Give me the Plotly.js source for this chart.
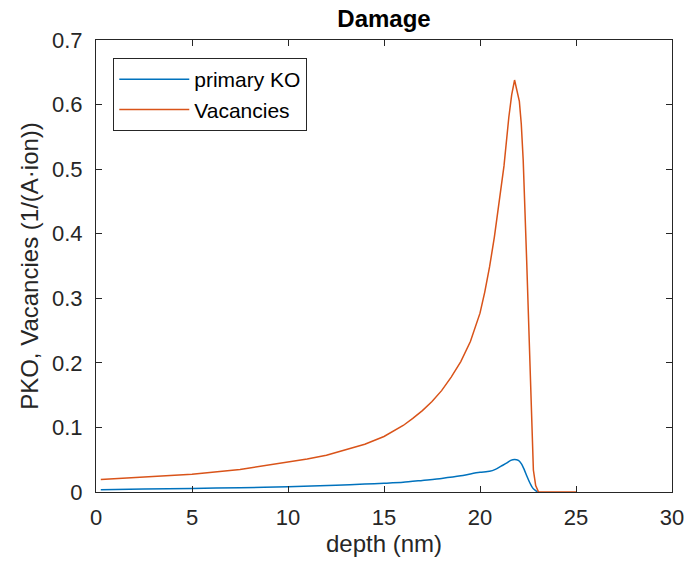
<!DOCTYPE html>
<html>
<head>
<meta charset="utf-8">
<script src="https://cdn.plot.ly/plotly-3.0.1.min.js"></script>
<style>html,body{margin:0;padding:0;background:#fff;}#chart{width:689px;height:570px;}</style>
</head>
<body>
<div id="chart"></div>
<script>
// PKO (primary knock-on) vs depth
const pkoDepth = [0.25, 2.5, 5, 7.5, 10, 12.5, 14, 15, 16, 17, 18, 19, 19.5, 20, 20.5, 20.8, 21.1, 21.4, 21.6, 21.8, 22.0, 22.15, 22.3, 22.45, 22.6, 22.75, 22.9, 23.0];
const pkoValues = [0.0035, 0.0045, 0.0055, 0.0066, 0.008, 0.0105, 0.0122, 0.0135, 0.015, 0.018, 0.021, 0.025, 0.028, 0.0305, 0.032, 0.035, 0.040, 0.045, 0.049, 0.0505, 0.049, 0.044, 0.035, 0.024, 0.014, 0.006, 0.002, 0.0];

// Vacancies vs depth
const vacDepth = [0.25, 2.5, 5, 7.5, 10, 11, 12, 13, 14, 15, 15.5, 16, 16.5, 17, 17.5, 18, 18.5, 19, 19.5, 20, 20.25, 20.5, 20.75, 21, 21.25, 21.5, 21.65, 21.8, 22.05, 22.15, 22.25, 22.43, 22.6, 22.7, 22.78, 22.9, 23.05, 24, 25];
const vacValues = [0.0195, 0.023, 0.0275, 0.035, 0.046, 0.051, 0.057, 0.065, 0.074, 0.086, 0.094, 0.103, 0.114, 0.126, 0.140, 0.157, 0.178, 0.202, 0.233, 0.277, 0.31, 0.349, 0.395, 0.447, 0.505, 0.58, 0.615, 0.638, 0.605, 0.57, 0.514, 0.359, 0.204, 0.10, 0.034, 0.01, 0.0, 0.0, 0.0];

const xTicks = [0, 5, 10, 15, 20, 25, 30];
const yTicks = [0, 0.1, 0.2, 0.3, 0.4, 0.5, 0.6, 0.7];
const yTickText = ['0', '0.1', '0.2', '0.3', '0.4', '0.5', '0.6', '0.7'];

const font = 'Liberation Sans, Arial, Helvetica, sans-serif';
const axisColor = '#262626';

const traces = [
  {x: pkoDepth, y: pkoValues, type: 'scatter', mode: 'lines', name: 'primary KO',
   line: {color: '#0072BD', width: 1.5, shape: 'spline', smoothing: 0.6}},
  {x: vacDepth, y: vacValues, type: 'scatter', mode: 'lines', name: 'Vacancies',
   line: {color: '#D95319', width: 1.5}}
];

const axisCommon = {
  showline: true, mirror: 'ticks', linecolor: axisColor, linewidth: 1,
  ticks: 'inside', ticklen: 6, tickcolor: axisColor, tickwidth: 1,
  showgrid: false, zeroline: false,
  tickfont: {family: font, size: 22, color: axisColor}
};

const layout = {
  width: 689, height: 570,
  margin: {l: 96, r: 17, t: 40, b: 78},
  paper_bgcolor: '#ffffff', plot_bgcolor: '#ffffff',
  font: {family: font, color: axisColor},
  title: {text: '<b>Damage</b>', font: {family: font, size: 24, color: '#000'}, x: 0.5, xanchor: 'center', xref: 'paper', y: 0.967, yanchor: 'middle'},
  xaxis: Object.assign({}, axisCommon, {
    range: [0, 30], tickvals: xTicks, ticktext: xTicks.map(String), ticklabelstandoff: 6,
    title: {text: 'depth (nm)', font: {family: font, size: 24, color: axisColor}, standoff: 4}
  }),
  yaxis: Object.assign({}, axisCommon, {
    range: [0, 0.7], tickvals: yTicks, ticktext: yTickText, ticklabelstandoff: 8,
    title: {text: 'PKO, Vacancies (1/(A·ion))', font: {family: font, size: 24, color: axisColor}, standoff: 6}
  }),
  showlegend: true,
  legend: {
    x: 0.03, y: 0.96, xanchor: 'left', yanchor: 'top',
    bgcolor: '#ffffff', bordercolor: axisColor, borderwidth: 1,
    font: {family: font, size: 21, color: '#000'},
    tracegroupgap: 0, itemwidth: 70
  }
};

Plotly.newPlot('chart', traces, layout, {displayModeBar: false, staticPlot: true});
</script>
</body>
</html>
